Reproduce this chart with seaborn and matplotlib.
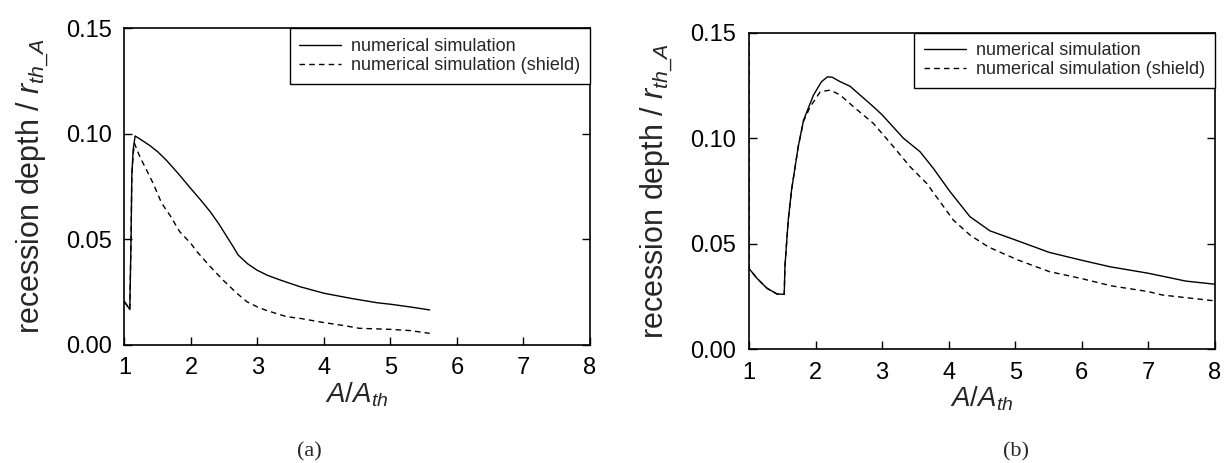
import matplotlib
matplotlib.use("Agg")
import matplotlib.pyplot as plt
import seaborn as sns

# panel (a): A/A_th vs recession depth / r_th_A
a_sim_x = [1.00, 1.08, 1.10, 1.11, 1.13, 1.16, 1.25, 1.38, 1.50, 1.63, 1.80, 2.00,
           2.15, 2.29, 2.42, 2.54, 2.63, 2.71, 2.85, 2.99, 3.15, 3.34, 3.64, 4.00,
           4.42, 4.80, 5.00, 5.30, 5.59]
a_sim_y = [0.0205, 0.0168, 0.0530, 0.0797, 0.0924, 0.0990, 0.0972, 0.0945, 0.0915,
           0.0875, 0.0815, 0.0740, 0.0685, 0.0631, 0.0573, 0.0513, 0.0468, 0.0426,
           0.0385, 0.0355, 0.0330, 0.0308, 0.0276, 0.0245, 0.0220, 0.0200, 0.0193,
           0.0180, 0.0166]
a_shd_x = [1.00, 1.08, 1.10, 1.11, 1.13, 1.15, 1.23, 1.33, 1.43, 1.56, 1.68, 1.83,
           2.00, 2.09, 2.29, 2.49, 2.69, 2.84, 3.00, 3.14, 3.44, 3.64, 4.00, 4.30,
           4.53, 5.00, 5.30, 5.59]
a_shd_y = [0.0205, 0.0168, 0.0530, 0.0797, 0.0900, 0.0955, 0.0892, 0.0830, 0.0766,
           0.0671, 0.0616, 0.0537, 0.0480, 0.0442, 0.0371, 0.0305, 0.0245, 0.0205,
           0.0180, 0.0163, 0.0134, 0.0126, 0.0106, 0.0092, 0.0079, 0.0074, 0.0068,
           0.0055]

# panel (b)
b_sim_x = [1.00, 1.12, 1.27, 1.42, 1.53, 1.54, 1.59, 1.64, 1.74, 1.82, 1.97, 2.09,
           2.18, 2.25, 2.37, 2.52, 2.87, 3.00, 3.32, 3.57, 3.77, 4.02, 4.32, 4.62,
           5.00, 5.51, 5.98, 6.42, 7.00, 7.56, 8.00]
b_sim_y = [0.0382, 0.0335, 0.0288, 0.0261, 0.0259, 0.0390, 0.0611, 0.0754, 0.0959,
           0.1085, 0.1204, 0.1267, 0.1290, 0.1288, 0.1267, 0.1245, 0.1148, 0.1110,
           0.0999, 0.0935, 0.0856, 0.0746, 0.0627, 0.0560, 0.0517, 0.0458, 0.0422,
           0.0390, 0.0359, 0.0322, 0.0307]
b_shd_x = [1.00, 1.00, 1.12, 1.27, 1.42, 1.53, 1.54, 1.59, 1.64, 1.74, 1.82, 1.92,
           2.07, 2.22, 2.37, 2.57, 2.87, 3.17, 3.42, 3.67, 3.87, 4.07, 4.32, 4.59,
           4.75, 5.04, 5.51, 5.98, 6.45, 7.00, 7.21, 8.00]
b_shd_y = [0.1600, 0.0382, 0.0335, 0.0288, 0.0261, 0.0259, 0.0390, 0.0611, 0.0754,
           0.0959, 0.1080, 0.1148, 0.1219, 0.1227, 0.1204, 0.1148, 0.1069, 0.0959,
           0.0864, 0.0785, 0.0698, 0.0611, 0.0540, 0.0485, 0.0462, 0.0422, 0.0367,
           0.0335, 0.0299, 0.0272, 0.0256, 0.0228]

x_ticks = [1, 2, 3, 4, 5, 6, 7, 8]
y_ticks = [0.00, 0.05, 0.10, 0.15]
labels = ["numerical simulation", "numerical simulation (shield)"]
captions = ["(a)", "(b)"]

sns.set_theme(style="ticks")
plt.rcParams["font.family"] = ["Liberation Sans", "DejaVu Sans"]
plt.rcParams["mathtext.fontset"] = "custom"
plt.rcParams["mathtext.rm"] = "Liberation Sans"
plt.rcParams["mathtext.it"] = "Liberation Sans:italic"

fig = plt.figure(figsize=(12.24, 4.63), dpi=100)
ax_a = fig.add_axes([0.1017, 0.2549, 0.3803, 0.6840])
ax_b = fig.add_axes([0.6119, 0.2462, 0.3807, 0.6836])

panels = [
    (ax_a, a_sim_x, a_sim_y, a_shd_x, a_shd_y, 309),
    (ax_b, b_sim_x, b_sim_y, b_shd_x, b_shd_y, 1016),
]

for i, (ax, sx, sy, dx, dy, cap_x) in enumerate(panels):
    sns.lineplot(x=sx, y=sy, ax=ax, color="black", lw=1.0, sort=False,
                 estimator=None, label=labels[0])
    sns.lineplot(x=dx, y=dy, ax=ax, color="black", lw=1.0, sort=False,
                 estimator=None, label=labels[1], linestyle=(0, (4, 3)))
    ax.set_xlim(1, 8)
    ax.set_ylim(0, 0.15)
    ax.set_xticks(x_ticks)
    ax.set_yticks(y_ticks)
    ax.set_yticklabels([f"{v:.2f}" for v in y_ticks])
    ax.tick_params(direction="in", length=6, width=1, labelsize=17,
                   right=True, top=False, pad=9, colors="black")
    for sp in ax.spines.values():
        sp.set_visible(True)
        sp.set_linewidth(1.2)
        sp.set_color("black")
    ax.set_xlabel(r"$A/A_{th}$", fontsize=20, labelpad=1)
    ax.set_ylabel(r"recession depth / $r_{th\_A}$", fontsize=22, labelpad=11)
    leg = ax.legend(loc="upper right", borderaxespad=0, frameon=True,
                    fancybox=False, edgecolor="black", fontsize=13,
                    handlelength=2.3, handletextpad=0.55, labelspacing=0.1,
                    borderpad=0.55)
    leg.get_frame().set_linewidth(1.0)
    leg.get_frame().set_alpha(1)
    fig.text(cap_x / 1224, 1 - 452 / 463, captions[i], ha="center", va="center",
             fontsize=16, family=["Liberation Serif", "DejaVu Serif"])

fig.savefig("out.png", dpi=100)
